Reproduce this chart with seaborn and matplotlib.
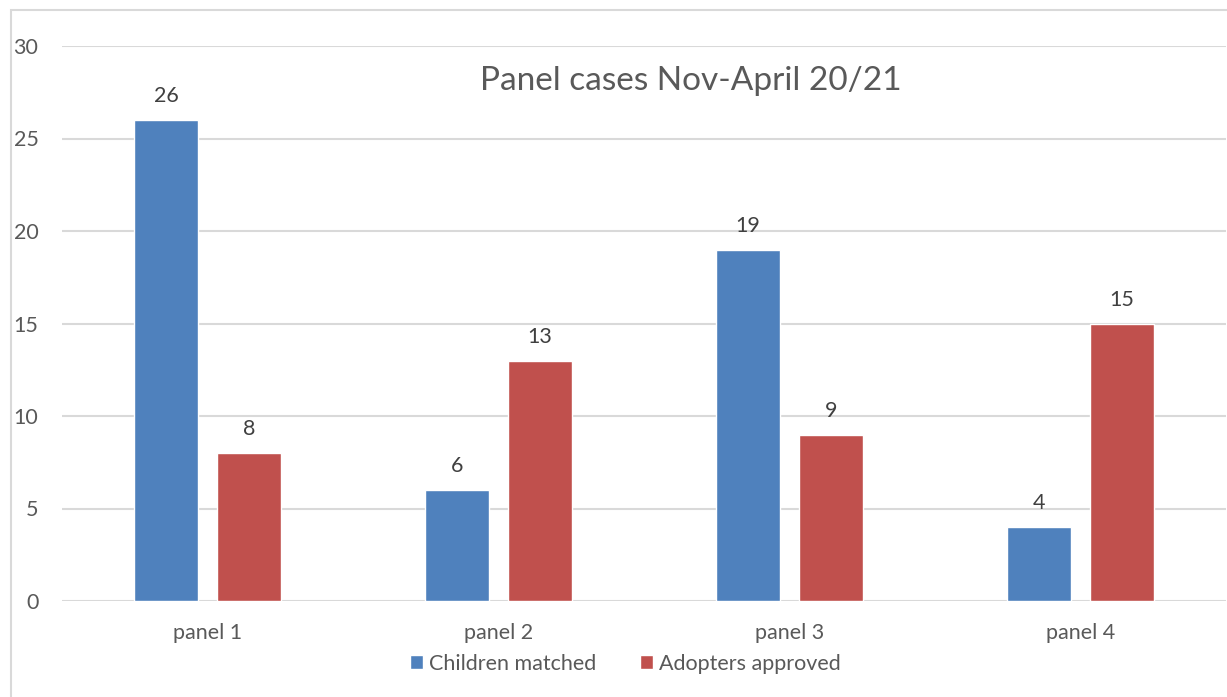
import pandas as pd
import matplotlib.pyplot as plt
import seaborn as sns
from matplotlib.patches import Rectangle

# data
panels = ["panel 1", "panel 2", "panel 3", "panel 4"]
children_matched = [26, 6, 19, 4]
adopters_approved = [8, 13, 9, 15]

df = pd.DataFrame({
    "panel": panels * 2,
    "count": children_matched + adopters_approved,
    "series": ["Children matched"] * 4 + ["Adopters approved"] * 4,
})

sns.set_style("white")
plt.rcParams["font.family"] = ["Lato", "DejaVu Sans"]
text_col = "#595959"

fig = plt.figure(figsize=(12.27, 6.97), dpi=100)
ax = fig.add_axes([62 / 1227, 1 - 601 / 697, 1164 / 1227, 555 / 697])

sns.barplot(data=df, x="panel", y="count", hue="series",
            palette=["#4F81BD", "#C0504D"], width=0.57, gap=0.22,
            saturation=1, ax=ax, legend=True)

for c in ax.containers:
    ax.bar_label(c, padding=10, fontsize=15.5, color="#404040")

ax.set_ylim(0, 30)
ax.set_xlim(-0.5, 3.5)
ax.set_yticks(range(0, 31, 5))
ax.yaxis.grid(True, color="#D9D9D9", linewidth=1.5)
ax.set_axisbelow(True)
for s in ax.spines.values():
    s.set_visible(False)
ax.set_xlabel("")
ax.set_ylabel("")
ax.tick_params(axis="both", length=0, labelsize=15.5, colors=text_col)
ax.tick_params(axis="x", pad=16)
ax.tick_params(axis="y", pad=17)

ax.set_title("Panel cases Nov-April 20/21", fontsize=24, color=text_col,
             x=0.54, y=0.905)

ax.legend(loc="center", bbox_to_anchor=(0.484, -0.113), ncol=2, frameon=False,
          fontsize=15.5, handlelength=0.6, handleheight=0.6, handletextpad=0.3,
          columnspacing=2.0, labelcolor=text_col)

# outer chart border
fig.patches.append(Rectangle((11 / 1227, -0.01), 1.2, 1 - 10 / 697 + 0.01,
                             transform=fig.transFigure, fill=False,
                             edgecolor="#D9D9D9", linewidth=1.5))

plt.savefig("out.png", dpi=100)
